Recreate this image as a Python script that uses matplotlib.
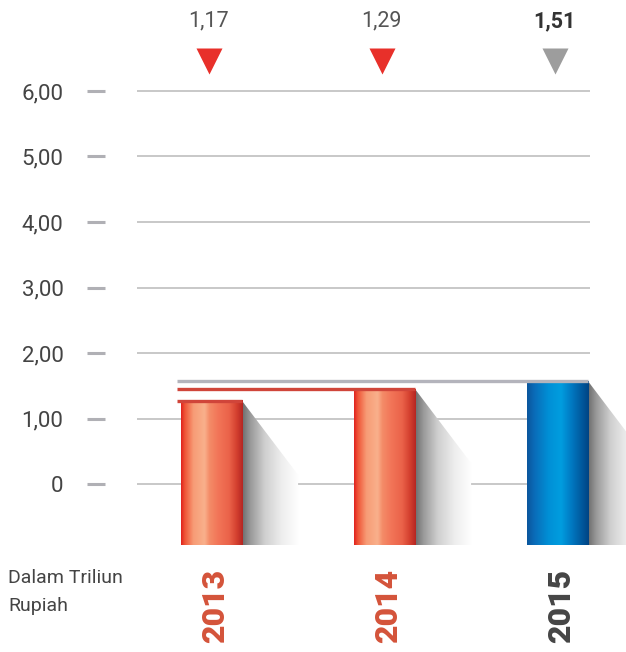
import matplotlib
matplotlib.use("Agg")
import matplotlib.pyplot as plt
import numpy as np
from matplotlib.colors import LinearSegmentedColormap
from matplotlib.patches import Polygon

plt.rcParams['font.family'] = ['Roboto', 'DejaVu Sans']

# data
years = ['2013', '2014', '2015']
values = [1.17, 1.29, 1.51]          # numbers printed above the chart
bar_tops = [1.27, 1.45, 1.57]        # bar heights as drawn
year_colors = ['#d4533a', '#d4533a', '#454545']
marker_colors = ['#e8302a', '#e8302a', '#9d9d9d']
level_colors = ['#d0453a', '#d0453a', '#b4b4bc']
yticks = [0, 1, 2, 3, 4, 5, 6]
ytick_labels = ['0', '1,00', '2,00', '3,00', '4,00', '5,00', '6,00']

BASE = -0.931
bar_w = 0.353

red_cmap = LinearSegmentedColormap.from_list('redbar', [
    (0.0, '#e0221e'), (0.06, '#ef5436'), (0.2, '#f79c76'), (0.38, '#f9b08c'),
    (0.46, '#f48c68'), (0.6, '#f27558'), (0.78, '#ea6249'), (0.9, '#d4402f'),
    (1.0, '#b52522')])
blue_cmap = LinearSegmentedColormap.from_list('bluebar', [
    (0.0, '#0b559c'), (0.12, '#0a6cb8'), (0.35, '#0090d6'), (0.55, '#009ddf'),
    (0.72, '#0079c2'), (0.9, '#00569a'), (1.0, '#004383')])
shadow_cmap = LinearSegmentedColormap.from_list('shadow', [
    (0.0, '#6c6c6c'), (0.15, '#9a9a9a'), (0.4, '#cfcfcf'), (0.7, '#eeeeee'),
    (1.0, '#ffffff')])
bar_cmaps = [red_cmap, red_cmap, blue_cmap]

fig = plt.figure(figsize=(6.26, 6.52), dpi=100)
ax = fig.add_axes([137 / 626, 107 / 652, 489 / 626, 545 / 652])

# grid
ax.hlines(yticks, -0.4306, 2.188, color='#c4c4c4', lw=1.3, zorder=1)

grad = np.linspace(0, 1, 256).reshape(1, -1)
x = np.arange(len(years))
for i, top in enumerate(bar_tops):
    x0 = x[i] - bar_w / 2
    x1 = x[i] + bar_w / 2
    # shadow
    poly = Polygon([(x1, top), (x1 + 0.324, top - 1.13), (x1 + 0.324, BASE), (x1, BASE)],
                   closed=True, facecolor='none', edgecolor='none', transform=ax.transData)
    ax.add_patch(poly)
    im = ax.imshow(grad, cmap=shadow_cmap, extent=[x1, x1 + 0.324, BASE, top],
                   aspect='auto', zorder=2)
    im.set_clip_path(poly)
    # bar
    ax.imshow(grad, cmap=bar_cmaps[i], extent=[x0, x1, BASE, top], aspect='auto', zorder=3)
    # level line
    ax.hlines(top, x[0] - bar_w / 2 - 0.023, x1, color=level_colors[i], lw=2.4, zorder=4)

ax.set_xlim(-0.4306, 2.396)
ax.set_ylim(BASE, 7.389)

# y axis
ax.set_xticks([])
ax.set_yticks(yticks)
ax.set_yticklabels(ytick_labels)
for s in ax.spines.values():
    s.set_visible(False)
ax.spines['left'].set_position(('outward', 23))
ax.tick_params(axis='y', direction='out', length=13, width=2.2, color='#b0b0b5',
               pad=17, labelsize=16, labelcolor='#444444')

# values and markers on top
for i, v in enumerate(values):
    bold = i == len(values) - 1
    ax.text(x[i] - 0.02, 7.07, f"{v:.2f}".replace('.', ','), ha='center', va='center',
            fontsize=15.5, color='#333333' if bold else '#555555',
            fontweight='bold' if bold else 'normal')
    ax.plot(x[i] - 0.015, 6.46, marker='v', ms=19, color=marker_colors[i],
            mec='none', clip_on=False, zorder=5)

# year labels
for i, yr in enumerate(years):
    ax.text(x[i] + 0.02, -1.86, yr, rotation=90, ha='center', va='center',
            fontsize=23, fontweight='heavy', color=year_colors[i], clip_on=False)

fig.text(8 / 626, 1 - 578 / 652, 'Dalam Triliun', ha='left', va='center',
         fontsize=14, color='#444444')
fig.text(8 / 626, 1 - 606 / 652, 'Rupiah', ha='left', va='center',
         fontsize=14, color='#444444')

fig.savefig('out.png', dpi=100)
